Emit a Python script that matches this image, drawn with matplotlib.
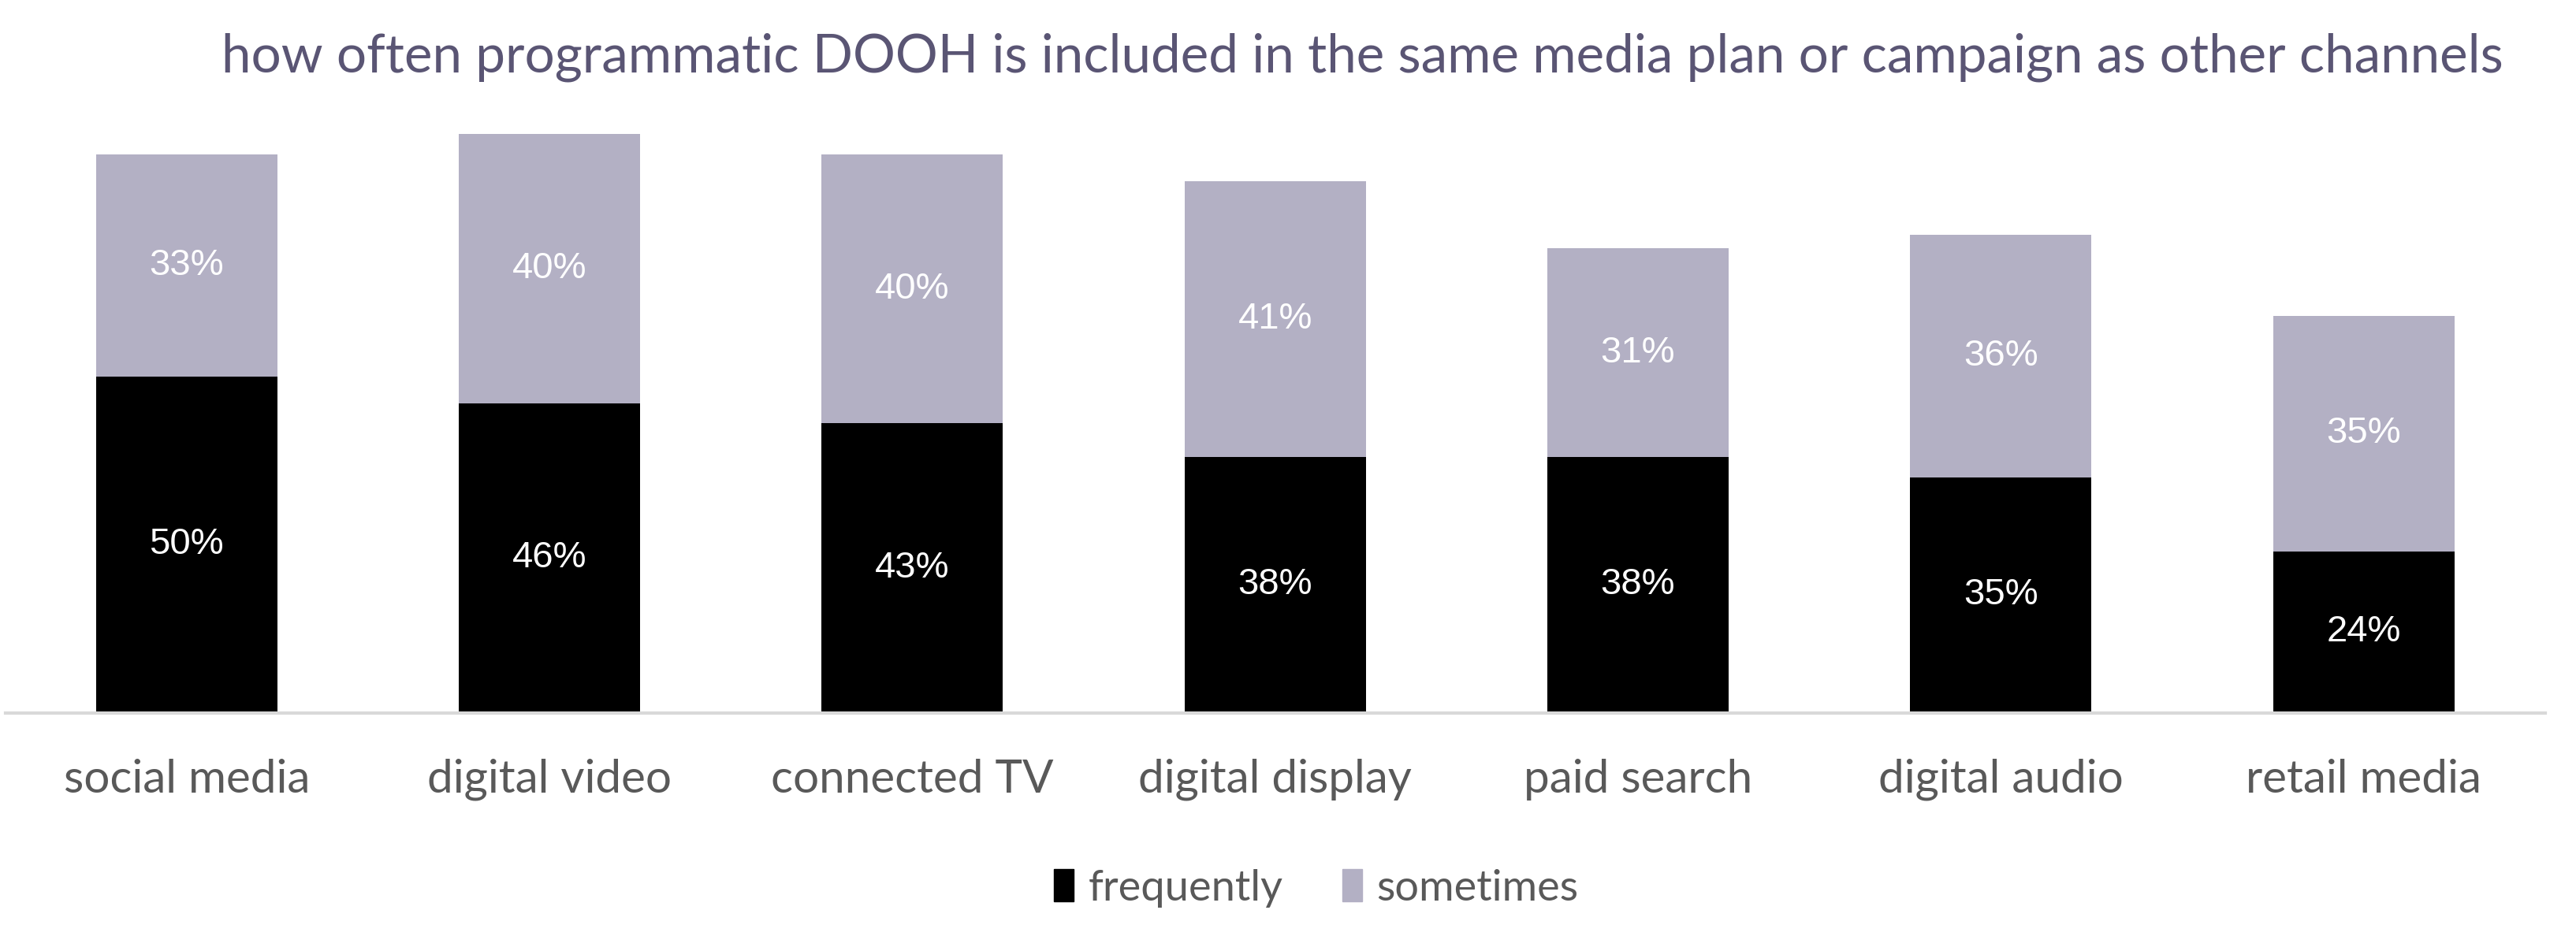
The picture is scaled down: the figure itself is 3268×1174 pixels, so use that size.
import numpy as np
import matplotlib.pyplot as plt
from matplotlib.patches import Patch

# data
channels = ["social media", "digital video", "connected TV", "digital display",
            "paid search", "digital audio", "retail media"]
frequently = [50, 46, 43, 38, 38, 35, 24]
sometimes = [33, 40, 40, 41, 31, 36, 35]

title = "how often programmatic DOOH is included in the same media plan or campaign as other channels"

FREQ_COLOR = "#000000"
SOME_COLOR = "#B3B0C4"
TEXT_COLOR = "#595959"
TITLE_COLOR = "#5A5574"
FONT = ["Lato", "DejaVu Sans"]
LABEL_FONT = ["Liberation Sans", "DejaVu Sans"]

fig = plt.figure(figsize=(32.68, 11.74), dpi=100)
ax = fig.add_axes([0.002, 0.2295, 0.986, 0.6545])

x = np.arange(len(channels))
b1 = ax.bar(x, frequently, width=0.5, color=FREQ_COLOR, label="frequently")
b2 = ax.bar(x, sometimes, width=0.5, bottom=frequently, color=SOME_COLOR, label="sometimes")

for bars, vals, bottoms in ((b1, frequently, [0] * len(x)), (b2, sometimes, frequently)):
    for i, (v, b) in enumerate(zip(vals, bottoms)):
        ax.text(x[i], b + v / 2, f"{v}%", ha="center", va="center",
                color="white", fontsize=34, family=LABEL_FONT)

ax.set_xlim(-0.5, len(channels) - 0.5)
ax.set_ylim(0, 90)
ax.set_yticks([])
ax.set_xticks(x)
ax.set_xticklabels(channels, fontsize=42, color=TEXT_COLOR, family=FONT)
ax.tick_params(axis="x", length=0, pad=42)
for s in ["top", "right", "left"]:
    ax.spines[s].set_visible(False)
ax.spines["bottom"].set_color("#D9D9D9")
ax.spines["bottom"].set_linewidth(3)

fig.text(0.529, 0.922, title, ha="center", va="baseline", fontsize=48.5,
         color=TITLE_COLOR, family=FONT)

handles = [Patch(color=FREQ_COLOR, label="frequently"),
           Patch(color=SOME_COLOR, label="sometimes")]
leg = fig.legend(handles=handles, loc="center", bbox_to_anchor=(0.511, 0.04), ncol=2,
                 frameon=False, handlelength=0.45, handleheight=0.8,
                 handletextpad=0.35, columnspacing=1.4, prop={"family": FONT, "size": 39})
for t in leg.get_texts():
    t.set_color(TEXT_COLOR)

fig.savefig("out.png", dpi=100)
